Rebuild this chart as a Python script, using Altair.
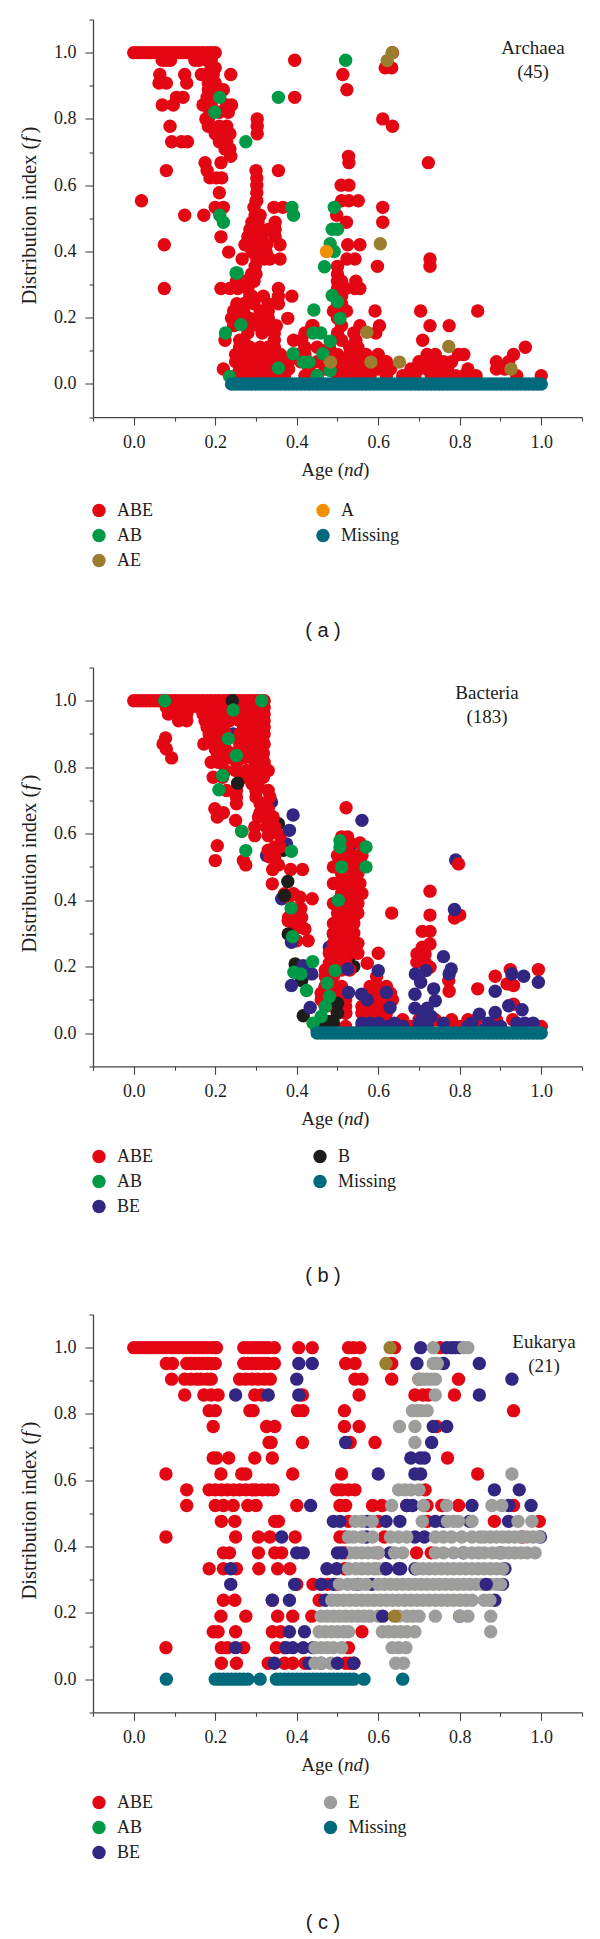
import altair as alt
import pandas as pd

RED, GREEN, OLIVE, ORANGE, TEAL = "#e30613", "#009a46", "#9a7d2e", "#f09000", "#006a7d"
NAVY, BLACK, GRAY = "#312783", "#1d1d1b", "#9d9d9c"
SERIF = "Liberation Serif"
INK = "#1d1d1b"
AXIS = "#444444"

# ---------- panel (a) Archaea : {f: [nd, ...]}
a_abe = {
 1.0: [.0,.01,.02,.03,.04,.05,.06,.07,.08,.09,.1,.11,.12,.13,.14,.15,.16,.17,.18,.19,.2,.635],
 .977: [.07,.08,.09,.15,.16,.18,.19,.395],
 .954: [.19,.2,.617,.633],
 .934: [.064,.125,.166,.195,.238,.513,.18],
 .908: [.062,.08,.13,.183,.2],
 .888: [.22,.183,.2,.523],
 .865: [.121,.105,.18,.2,.395],
 .842: [.07,.097,.17,.24,.228,.19],
 .82: [.21,.232,.187],
 .8: [.177,.183,.303,.611],
 .778: [.089,.183,.21,.228,.303,.635],
 .755: [.236,.21,.303,.2,.22],
 .731: [.093,.117,.132,.21,.228],
 .709: [.236,.224],
 .687: [.238,.527],
 .668: [.175,.214,.528,.723],
 .644: [.08,.355,.18,.3],
 .622: [.187,.216,.203,.302],
 .6: [.302,.509,.528],
 .577: [.21,.302],
 .553: [.019,.302,.528,.551,.51,.3],
 .533: [.2,.22,.344,.366,.295,.611],
 .509: [.125,.172,.298,.498,.31],
 .488: [.347,.522,.611,.29,.305],
 .466: [.285,.302,.347,.33,.34,.31],
 .444: [.214,.28,.302,.347,.315],
 .42: [.075,.273,.29,.302,.359,.326,.525,.555],
 .398: [.233,.29,.31,.31,.325],
 .377: [.266,.302,.359,.334,.523,.543,.727,.32],
 .355: [.298,.598,.727,.5],
 .332: [.289,.3,.5],
 .31: [.252,.295,.27,.545,.5,.51],
 .288: [.075,.214,.236,.255,.28,.355,.518,.543,.555,.5,.52],
 .265: [.285,.318,.388,.355,.29,.51],
 .242: [.253,.27,.295,.33,.355,.5,.51],
 .22: [.245,.27,.31,.33,.49,.51,.522,.592,.704,.844],
 .198: [.24,.26,.285,.31,.33,.378,.5],
 .176: [.245,.28,.305,.33,.35,.437,.44,.555,.603,.727,.774,.51],
 .154: [.28,.315,.345,.42,.54,.594,.5],
 .132: [.224,.345,.392,.412,.27,.26,.51,.545,.709],
 .111: [.26,.27,.285,.31,.33,.345,.42,.45,.48,.53,.55,.961],
 .089: [.25,.27,.29,.31,.32,.34,.36,.4,.42,.47,.5,.53,.55,.57,.6,.72,.74,.797,.81,.932],
 .067: [.25,.27,.29,.32,.34,.355,.38,.41,.45,.5,.52,.54,.56,.59,.62,.7,.715,.74,.76,.78,.89,.92],
 .045: [.22,.26,.28,.3,.33,.35,.38,.43,.47,.51,.54,.57,.6,.63,.68,.7,.72,.75,.77,.82,.89,.91],
 .025: [.25,.27,.29,.31,.34,.37,.42,.45,.5,.53,.56,.58,.62,.66,.69,.73,.76,.79,.81,.84,.94,1.0],
}
a_ab = {
 .977: [.52], .865: [.211,.355], .82: [.199], .731: [.275], .533: [.388,.492],
 .509: [.392,.211], .488: [.22], .467: [.487,.5], .423: [.482], .4: [.492], .354: [.468],
 .335: [.251,.254], .267: [.487], .248: [.5], .223: [.442], .198: [.506], .179: [.263],
 .154: [.225,.44,.459], .129: [.482], .091: [.391,.464], .066: [.416,.43], .048: [.355],
 .041: [.482], .025: [.45], .023: [.235],
}
a_ae = {1.0: [.634], .976: [.622], .423: [.605], .156: [.572], .113: [.773],
        .066: [.582,.652,.483], .045: [.926]}
a_a = {.4: [.473]}
a_missing = {0.0: [.24,.25,.26,.27,.28,.29,.3,.31,.32,.33,.34,.35,.36,.37,.38,.39,.4,.41,.42,.43,.44,.45,
 .46,.47,.48,.49,.5,.51,.52,.53,.54,.55,.56,.57,.58,.59,.6,.61,.62,.63,.64,.65,.66,.67,.68,.69,.7,.71,.72,
 .73,.74,.75,.76,.77,.78,.79,.8,.81,.82,.83,.84,.85,.86,.87,.88,.89,.9,.91,.92,.93,.94,.95,.96,.97,.98,.99,1.0]}

# ---------- panel (b) Bacteria
b_be_under = {
 .967: [.273], .9: [.244], .836: [.269], .695: [.338], .534: [.326], .569: [.375], .404: [.363],
 .298: [.49], .258: [.48], .521: [.79], .56: [.53], .32: [.5], .27: [.5], .14: [.47], .12: [.49],
 .09: [.5], .06: [.52],
}
b_black_under = {
 .63: [.355], .55: [.367], .3: [.52], .23: [.53], .2: [.54], .34: [.515], .35: [.54], .812: [.314],
}
b_abe = {
 1.0: [.0,.01,.02,.03,.04,.05,.06,.07,.08,.09,.1,.11,.12,.13,.14,.15,.16,.17,.18,.19,.2,.21,.22,.23,.24,.25,.26,.27,.28,.29,.3,.31,.32],
 .98: [.08,.1,.12,.14,.16,.18,.2,.22,.26,.28,.3,.32],
 .96: [.085,.105,.13,.17,.19,.21,.23,.25,.27,.29,.31,.32],
 .94: [.11,.13,.175,.195,.215,.235,.26,.28,.3,.32],
 .92: [.18,.2,.22,.27,.29,.31,.32],
 .9: [.185,.205,.225,.26,.28,.3,.32],
 .888: [.078,.19,.21,.27,.29,.31],
 .87: [.072,.172,.2,.22,.26,.28,.3,.32],
 .855: [.08,.2,.225,.27,.29,.31],
 .842: [.205,.24,.26,.28,.3,.318],
 .828: [.093,.23,.27,.29,.31],
 .815: [.19,.207,.252,.3,.32],
 .79: [.225,.25,.277,.29,.31,.33],
 .77: [.195,.218,.27,.293,.318],
 .75: [.255,.305,.29,.3],
 .73: [.228,.252,.3,.33],
 .71: [.3,.334,.252],
 .69: [.252,.31,.322],
 .675: [.199,.33],
 .663: [.22,.31],
 .65: [.205,.306,.326,.342],
 .64: [.25],
 .62: [.297,.326,.346],
 .607: [.265],
 .594: [.297,.33,.359],
 .572: [.265],
 .564: [.205],
 .56: [.346,.359],
 .55: [.33,.34],
 .53: [.334,.346],
 .519: [.2,.269],
 .506: [.275,.355],
 .492: [.341,.385,.414],
 .449: [.34],
 .419: [.392,.37],
 .409: [.408,.38],
 .404: [.438],
 .375: [.39,.41],
 .348: [.412,.38],
 .338: [.379,.4],
 .313: [.396,.42],
 .278: [.428,.4],
 .238: [.404,.424],
 # right column
 .678: [.521],
 .59: [.525,.51],
 .572: [.555,.53],
 .534: [.5,.52,.54,.56,.51,.53,.55],
 .5: [.49,.51,.53,.55,.56],
 .48: [.51,.53,.55],
 .45: [.49,.5,.52,.54,.555],
 .42: [.51,.53,.55,.56],
 .39: [.49,.5,.52,.54,.55],
 .361: [.633,.5,.52,.54,.55],
 .33: [.49,.5,.51,.53,.54],
 .3: [.49,.5,.52,.54],
 .27: [.49,.5,.51,.53,.55],
 .24: [.48,.49,.51,.53,.55,.6],
 .21: [.48,.5,.52,.573],
 .19: [.47,.49,.51,.53],
 .258: [.611],
 .17: [.47,.596,.49],
 .14: [.47,.49,.51,.58,.6,.62],
 .12: [.46,.48,.5,.58,.6,.62,.63],
 .1: [.46,.48,.52,.57,.59,.61,.635],
 .08: [.47,.49,.52,.56,.58,.6,.62],
 .06: [.5,.52,.56,.58,.6,.62],
 .427: [.727],
 .355: [.727,.8],
 .346: [.787],
 .509: [.797],
 .306: [.708,.727],
 .268: [.727],
 .258: [.708],
 .238: [.695,.715],
 .213: [.695,.715],
 .198: [.727],
 .158: [.773],
 .126: [.774],
 .133: [.844],
 .171: [.887],
 .191: [.924,.993],
 .148: [.916],
 .143: [.932],
 .087: [.932],
 .04: [.58,.62,.66,.7,.74,.78,.82,.84,.89,.93],
 .02: [.52,.56,.6,.64,.68,.72,.79,.8,.83,.9,.97,1.0],
}
b_black = {
 1.0: [.242], .752: [.255], .456: [.378], .414: [.37],
 .298: [.379], .208: [.396], .158: [.412], .052: [.416], .01: [.45], .03: [.47,.49], .035: [.48],
 .06: [.5], .09: [.5], .02: [.66],
}
b_be_over = {
 .656: [.391], .61: [.382], .273: [.387], .143: [.387], .077: [.433,.629], .203: [.416], .178: [.437,.691,.774,.928],
 .64: [.56], .372: [.787], .23: [.76], .193: [.779,.525], .188: [.717,.6], .153: [.704,.993], .117: [.69,.559],
 .133: [.736], .097: [.74], .171: [.957], .126: [.887], .082: [.92], .07: [.953], .062: [.887],
 .057: [.848], .122: [.62,.527], .1: [.573], .075: [.69,.72], .05: [.71,.73],
 .03: [.56,.58,.6,.64,.7,.76,.83,.87,.94,.96,.98], .02: [.62,.66,.72,.82,.88,.9,.95], .01: [.615,.86],
}
b_ab = {
 1.0: [.076,.314], .972: [.244], .886: [.232], .835: [.252], .775: [.218], .732: [.209], .607: [.265],
 .579: [.506], .56: [.506,.57], .549: [.275], .547: [.387], .5: [.51,.57], .4: [.502], .376: [.386],
 .29: [.39], .215: [.439], .188: [.494], .183: [.393], .178: [.41], .15: [.475], .128: [.424],
 .11: [.48], .08: [.47], .05: [.46], .03: [.44],
}
b_missing = {0.0: [.45,.46,.47,.48,.49,.5,.51,.52,.53,.54,.55,.56,.57,.58,.59,.6,.61,.62,.63,.64,.65,.66,.67,.68,
 .69,.7,.71,.72,.73,.74,.75,.76,.77,.78,.79,.8,.81,.82,.83,.84,.85,.86,.87,.88,.89,.9,.91,.92,.93,.94,.95,.96,.97,.98,.99,1.0]}

# ---------- panel (c) Eukarya
c_abe = {
 1.0: [.0,.01,.02,.03,.04,.05,.06,.07,.08,.09,.1,.11,.12,.13,.14,.15,.16,.17,.18,.19,.2,.203,.27,.28,.29,.3,.31,.32,.33,.345,.405,.438,.527,.54,.555,.64,.752],
 .952: [.08,.095,.13,.14,.15,.16,.17,.18,.19,.2,.27,.28,.29,.3,.31,.32,.33,.345,.52,.543,.633],
 .905: [.093,.125,.14,.155,.165,.18,.19,.26,.275,.29,.305,.32,.335,.543,.56,.633,.7,.797],
 .857: [.125,.172,.19,.207,.297,.314,.414,.553,.69,.71,.723,.787],
 .81: [.185,.2,.285,.293,.402,.415,.517,.932],
 .762: [.195,.326,.346,.517,.553,.743],
 .714: [.332,.337,.414,.531,.592],
 .667: [.195,.203,.233,.297,.34,.77],
 .619: [.079,.214,.265,.275,.39,.51,.844],
 .571: [.13,.185,.2,.215,.23,.245,.26,.275,.29,.3,.315,.33,.342,.498,.51,.527,.543,.715],
 .524: [.13,.2,.22,.244,.28,.3,.4,.506,.52,.586,.609,.67,.72,.756,.797,.932],
 .476: [.215,.248,.346,.355,.527,.6,.72,.885,.995],
 .429: [.079,.25,.306,.334,.396,.506,.518,.615,.953],
 .381: [.22,.235,.306,.346,.363,.518,.6,.694,.73],
 .333: [.185,.22,.252,.307,.353,.383,.518],
 .286: [.4,.44,.46,.475,.5],
 .238: [.22,.248,.34,.455],
 .19: [.214,.275,.353,.39,.437],
 .143: [.195,.207,.25,.34,.36,.56],
 .095: [.079,.215,.23,.27,.35,.37,.527],
 .048: [.215,.252,.33,.37,.39,.42,.52,.53,.54],
}
c_be = {
 1.0: [.704,.768,.78,.789,.8],
 .952: [.405,.438,.695,.76,.848],
 .905: [.4,.928],
 .857: [.25,.33,.405,.848],
 .762: [.735,.768],
 .714: [.52,.731],
 .667: [.68,.703,.713],
 .619: [.6,.69,.704],
 .571: [.885,.946],
 .524: [.434,.67,.684,.83,.92,.975],
 .476: [.49,.506,.573,.619,.653,.74,.76,.824,.92],
 .429: [.363,.571,.69,.713,.998],
 .381: [.4,.416,.5,.629,.809,.9],
 .333: [.238,.474,.498,.617,.65,.69,.911],
 .286: [.238,.395,.46,.49,.55,.584,.905],
 .238: [.382,.34,.47,.886],
 .19: [.8],
 .143: [.382,.419],
 .095: [.25,.374,.39,.416,.44],
 .048: [.345,.43,.46,.54],
}
c_e = {
 1.0: [.735,.81,.82],
 .952: [.735,.745],
 .905: [.7,.71,.72,.73,.74],
 .857: [.74],
 .81: [.684,.695,.705,.72],
 .762: [.652,.69],
 .714: [.69],
 .619: [.928],
 .571: [.65,.665,.68,.7],
 .524: [.633,.711,.768,.879,.903],
 .476: [.544,.56,.585,.708,.77,.785,.797,.83,.943,.977],
 .429: [.527,.54,.56,.586,.63,.65,.67,.74,.76,.78,.805,.83,.85,.86,.875,.89,.905,.92,.935,.95,.965,.98,.995],
 .381: [.53,.545,.56,.575,.59,.6,.64,.66,.74,.76,.785,.81,.83,.846,.86,.88,.895,.905,.92,.935,.95,.965,.985],
 .333: [.527,.545,.56,.575,.59,.6,.695,.71,.725,.74,.755,.77,.785,.8,.815,.83,.845,.86,.875,.89,.905],
 .286: [.505,.525,.54,.555,.57,.6,.615,.63,.645,.66,.675,.69,.705,.72,.735,.75,.765,.78,.795,.81,.825,.84,.855,.875,.89,.9],
 .238: [.486,.5,.515,.53,.545,.56,.575,.59,.605,.62,.635,.65,.665,.68,.695,.71,.725,.74,.755,.77,.785,.8,.815,.83,.86,.874],
 .19: [.46,.475,.49,.505,.52,.535,.55,.565,.58,.6,.65,.67,.685,.7,.74,.8,.82,.876],
 .143: [.455,.47,.485,.5,.515,.527,.61,.625,.64,.655,.67,.69,.876],
 .095: [.445,.46,.475,.49,.51,.634,.65,.668],
 .048: [.445,.46,.483,.643,.662],
}
c_be_over = {.286: [.865], .19: [.611], .381: [.51], .048: [.5], .333: [.62,.655]}
c_ae = {1.0: [.629], .952: [.619], .19: [.64]}
c_missing = {0.0: [.08,.2,.21,.22,.23,.24,.25,.26,.27,.28,.31,.35,.36,.37,.38,.39,.4,.41,.42,.43,.44,.45,.46,.47,.48,.49,.5,.51,.52,.53,.54,.565,.66]}


def table(*groups):
    rows = []
    for name, group in groups:
        for f, xs in group.items():
            rows.extend({"nd": x, "f": f, "kind": name} for x in xs)
    return pd.DataFrame(rows)


def axis(pad):
    return alt.Axis(
        title=None, values=[-.1, 0, .1, .2, .3, .4, .5, .6, .7, .8, .9, 1.0, 1.1],
        labelExpr="round(datum.value*10)%2==0 ? format(datum.value,'.1f') : ''",
        tickSize={"condition": {"test": "round(datum.value*10)%2==0", "value": 8}, "value": 4},
        tickColor=AXIS, domainColor=AXIS, tickWidth=1.1, domainWidth=1.3, grid=False,
        labelFont=SERIF, labelFontSize=18, labelColor=INK, labelPadding=pad, labelBound=False,
        labelFlush=False, labelOverlap=False)


def label(text, x, y, **kw):
    opts = dict(font=SERIF, fontSize=19, color=INK)
    opts.update(kw)
    return alt.Chart(pd.DataFrame({"t": [text]})).mark_text(**opts).encode(
        text="t:N", x=alt.value(x), y=alt.value(y))


def panel(df, domain, colours, shown, h, ylab, xlab, note, note_x, note_y, cap, cap_y, leg_pad, leg_y):
    pts = alt.Chart(df).mark_circle(size=180, opacity=1).encode(
        x=alt.X("nd:Q", scale=alt.Scale(domain=[-.1, 1.1], nice=False, zero=False), axis=axis(8)),
        y=alt.Y("f:Q", scale=alt.Scale(domain=[-.1, 1.1], nice=False, zero=False), axis=axis(9)),
        color=alt.Color("kind:N", scale=alt.Scale(domain=domain, range=colours),
                        legend=alt.Legend(
                            values=shown, title=None, orient="none", legendX=-3, legendY=leg_y,
                            columns=2, columnPadding=leg_pad, rowPadding=7, symbolSize=180,
                            symbolType="circle", symbolOpacity=1, symbolStrokeWidth=0, labelFont=SERIF,
                            labelFontSize=18, labelColor=INK, labelOffset=9, gridAlign="each")),
    )
    parts = [
        pts,
        label("Distribution index (", -63, ylab + 88, angle=270, align="left", baseline="middle", fontSize=20.5),
        label("f", -63, ylab - 77, angle=270, align="center", baseline="middle", fontStyle="italic", fontSize=20.5),
        label(")", -63, ylab - 83, angle=270, align="left", baseline="middle", fontSize=20.5),
        label("Age (", xlab + 7, h + 53, align="right", baseline="middle"),
        label("nd", xlab + 7, h + 53, align="left", baseline="middle", fontStyle="italic"),
        label(")", xlab + 26, h + 53, align="left", baseline="middle"),
        label(note[0], note_x, note_y, baseline="middle", align="center"),
        label(note[1], note_x, note_y + 24.5, baseline="middle", align="center"),
        label(cap, 230, cap_y, font="Liberation Sans", fontSize=20, baseline="middle", align="center"),
    ]
    return alt.layer(*parts).properties(width=489, height=h)


def spacer(h):
    return alt.Chart(pd.DataFrame({"s": [0]})).mark_text(text="").encode(x=alt.value(0)).properties(width=489, height=h)


a = panel(
    table(("ABE", a_abe), ("AB", a_ab), ("AE", a_ae), ("A", a_a), ("Missing", a_missing)),
    ["ABE", "AB", "AE", "A", "Missing"], [RED, GREEN, OLIVE, ORANGE, TEAL],
    ["ABE", "AB", "AE", "A", "Missing"],
    397.6, 197, 244, ("Archaea", "(45)"), 440, 28, "( a )", 611, 161, 482)
b = panel(
    table(("BE", b_be_under), ("B", b_black_under), ("ABE", b_abe), ("B", b_black), ("BE", b_be_over), ("AB", b_ab), ("Missing", b_missing)),
    ["ABE", "AB", "BE", "B", "Missing"], [RED, GREEN, NAVY, BLACK, TEAL],
    ["ABE", "AB", "BE", "B", "Missing"],
    398.8, 197, 244, ("Bacteria", "(183)"), 394, 25, "( b )", 608.5, 158, 480)
c = panel(
    table(("ABE", c_abe), ("BE", c_be), ("E", c_e), ("BE", c_be_over), ("AE", c_ae), ("Missing", c_missing)),
    ["ABE", "AB", "BE", "E", "Missing", "AE"], [RED, GREEN, NAVY, GRAY, TEAL, OLIVE],
    ["ABE", "AB", "BE", "E", "Missing"],
    397.8, 197, 244, ("Eukarya", "(21)"), 451, 27, "( c )", 608, 168.5, 479)

chart = alt.vconcat(a, spacer(249.5), b, spacer(247.3), c, spacing=0, bounds="flush").properties(
    padding={"left": 12, "top": 2.5, "right": 5, "bottom": 5}
).resolve_scale(color="independent").configure_view(stroke=None)

chart.save("out.html", embed_options={"renderer": "svg", "actions": False})
